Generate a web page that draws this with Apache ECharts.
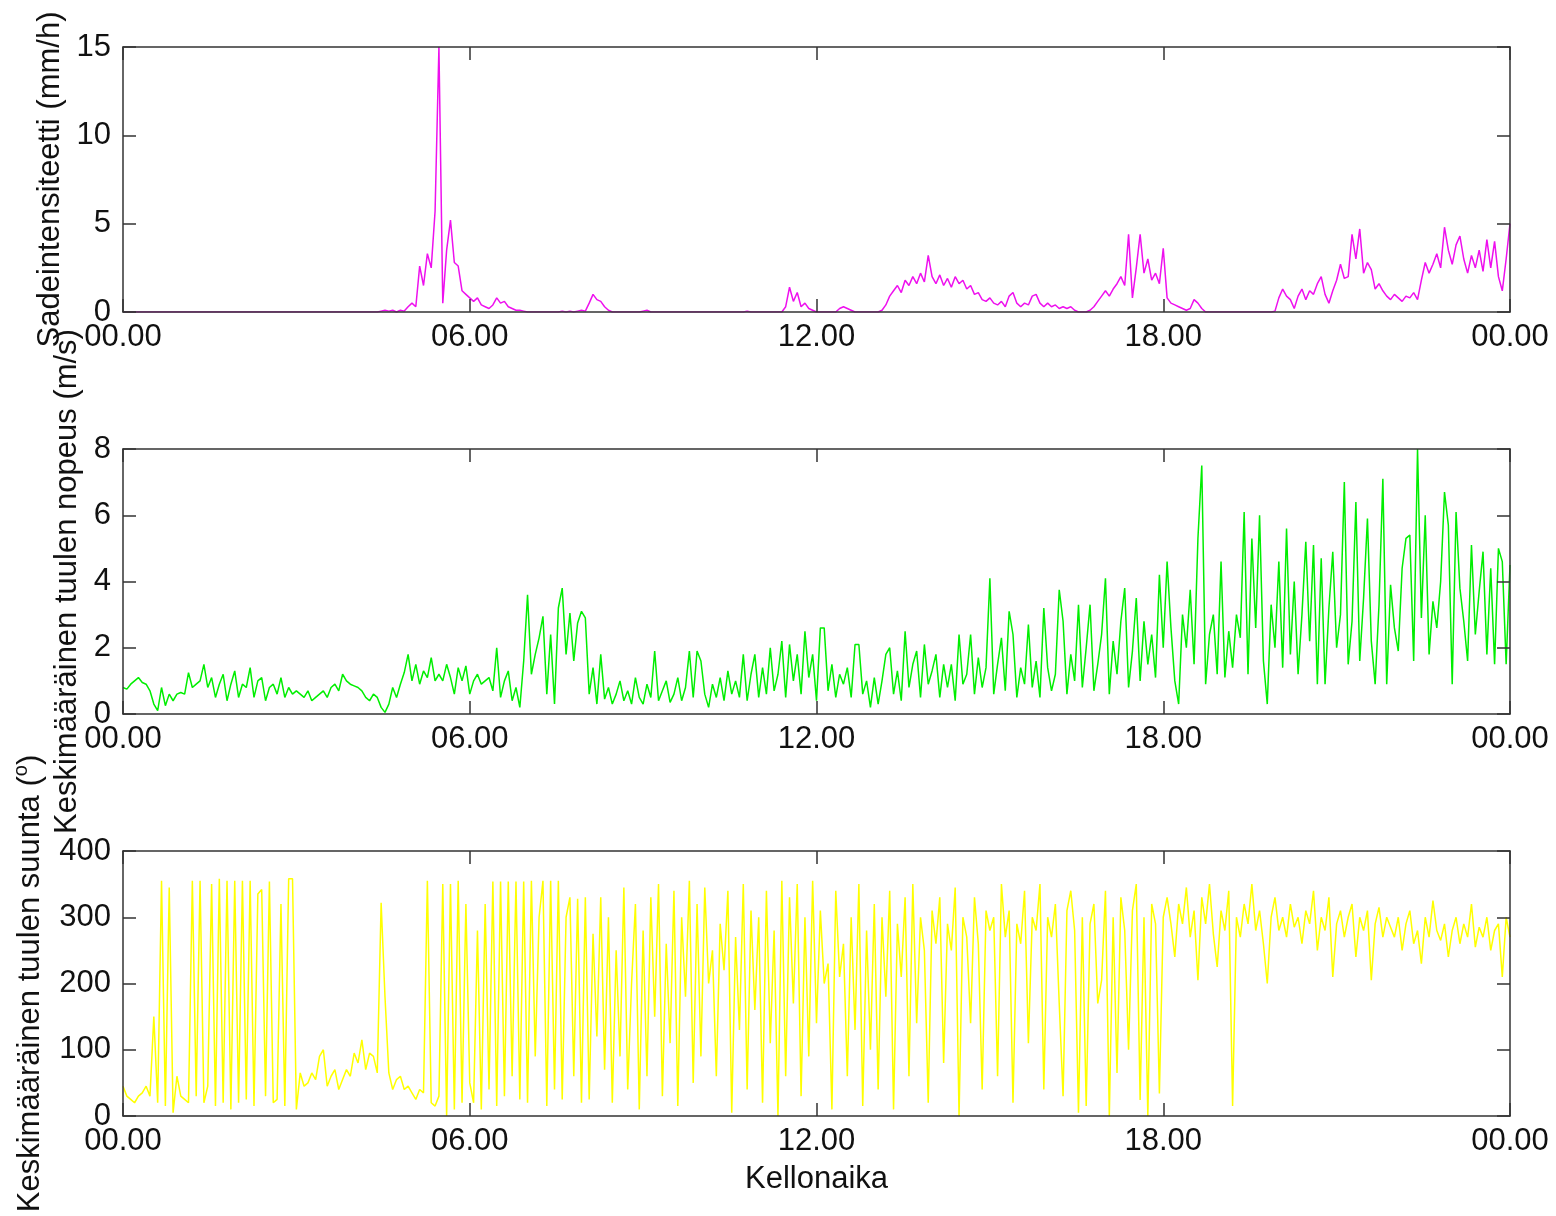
<!DOCTYPE html>
<html><head><meta charset="utf-8">
<script src="https://cdn.jsdelivr.net/npm/echarts@6/dist/echarts.min.js"></script>
<style>html,body{margin:0;padding:0;background:#fff}#c{width:1556px;height:1216px}</style>
</head><body><div id="c"></div>
<script>
// x tick labels (hours 0,6,12,18,24)
const xTickLabels = ['00.00','06.00','12.00','18.00','00.00'];
const pointsPerHour = 15; // samples every 4 minutes, 00.00 .. 24.00

// Sadeintensiteetti (mm/h)
const rain = [
0,0,0,0,0,0,0,0,0,0,0,0,0,0,0,
0,0,0,0,0,0,0,0,0,0,0,0,0,0,0,
0,0,0,0,0,0,0,0,0,0,0,0,0,0,0,
0,0,0,0,0,0,0,0,0,0,0,0,0,0,0,
0,0,0,0,0,0,0,0.05,0.1,0.05,0.1,0,0.1,0.05,0.3,
0.5,0.3,2.6,1.5,3.3,2.5,5.7,15,0.5,3.5,5.2,2.8,2.6,1.2,1.0,
0.8,0.6,0.8,0.4,0.3,0.2,0.4,0.8,0.5,0.6,0.3,0.2,0.1,0.1,0.05,
0,0,0,0,0,0,0,0,0,0.05,0,0.05,0,0.05,0.1,
0.05,0.5,1.0,0.7,0.6,0.3,0.1,0,0,0,0,0,0,0,0,
0.05,0.1,0,0,0,0,0,0,0,0,0,0,0,0,0,
0,0,0,0,0,0,0,0,0,0,0,0,0.05,0,0,
0,0,0,0,0,0,0,0.3,1.4,0.6,1.1,0.3,0.5,0.2,0.1,
0,0,0,0,0,0,0.2,0.3,0.2,0.1,0,0,0,0,0,
0,0,0.1,0.4,0.9,1.2,1.5,1.1,1.8,1.5,2.0,1.6,2.2,1.7,3.2,
2.0,1.6,2.1,1.5,1.9,1.4,2.0,1.6,1.8,1.3,1.5,1.0,1.1,0.7,0.6,
0.8,0.5,0.4,0.6,0.3,0.9,1.1,0.5,0.3,0.5,0.4,0.9,1.0,0.5,0.3,
0.5,0.3,0.4,0.2,0.3,0.2,0.3,0.1,0,0,0,0.1,0.3,0.6,0.9,
1.2,0.9,1.3,1.6,2.0,1.5,4.4,0.8,2.5,4.4,2.2,3.0,1.8,2.2,1.6,
3.6,0.8,0.5,0.4,0.3,0.2,0.1,0.2,0.7,0.5,0.2,0,0,0,0,
0,0,0,0,0,0,0,0,0,0,0,0,0,0,0.05,
0.8,1.3,0.9,0.7,0.2,0.9,1.3,0.7,1.2,1.0,1.6,2.0,1.0,0.5,1.2,
1.8,2.7,1.9,2.0,4.4,3.0,4.7,2.2,2.8,2.4,1.3,1.6,1.2,0.9,0.7,
1.0,0.8,0.6,0.9,0.8,1.1,0.7,1.8,2.8,2.2,2.7,3.3,2.5,4.8,3.5,
2.7,3.8,4.3,3.0,2.2,3.2,2.5,3.5,2.3,4.1,2.5,4.0,2.0,1.2,3.0,
5.0];

// Keskimääräinen tuulen nopeus (m/s)
const windSpeed = [
0.8,0.75,0.9,1.0,1.1,0.95,0.9,0.7,0.3,0.1,0.8,0.25,0.6,0.4,0.6,
0.65,0.6,1.25,0.8,0.9,1.0,1.5,0.8,1.1,0.5,0.9,1.2,0.4,0.9,1.3,
0.5,0.9,0.8,1.4,0.5,1.0,1.1,0.4,0.8,0.9,0.6,1.1,0.5,0.8,0.6,
0.7,0.6,0.5,0.7,0.4,0.5,0.6,0.7,0.5,0.8,0.9,0.7,1.2,1.0,0.9,
0.85,0.8,0.7,0.5,0.4,0.6,0.5,0.2,0.05,0.3,0.8,0.5,0.9,1.25,1.8,
1.0,1.5,0.9,1.3,1.1,1.7,1.0,1.2,1.0,1.5,1.1,0.6,1.4,1.0,1.45,
0.6,1.0,1.2,0.9,1.0,1.1,0.7,2.0,0.5,1.0,1.3,0.4,0.8,0.2,1.6,
3.6,1.2,1.8,2.3,2.95,0.6,2.4,0.3,3.2,3.8,1.8,3.05,1.6,2.75,3.1,
2.9,0.6,1.4,0.3,1.8,0.45,0.8,0.3,0.6,1.0,0.4,0.7,0.3,1.1,0.5,
0.3,0.9,0.5,1.9,0.4,0.7,1.0,0.35,0.6,1.1,0.4,0.8,1.9,0.5,1.9,
1.6,0.6,0.2,0.9,0.5,1.1,0.4,1.3,0.6,1.0,0.5,1.8,0.4,1.2,1.8,
0.5,1.4,0.6,2.0,0.7,1.2,2.2,0.5,2.1,1.0,1.8,0.6,2.5,1.1,1.8,
0.4,2.6,2.6,0.7,1.5,0.5,1.2,0.9,1.4,0.5,2.1,2.1,0.6,1.0,0.2,
1.1,0.3,1.0,1.8,2.0,0.6,1.3,0.4,2.5,0.8,1.5,1.9,0.5,2.1,0.9,
1.3,1.8,0.5,1.5,0.8,1.5,0.4,2.4,0.9,1.2,2.4,0.6,1.7,0.8,1.4,
4.1,0.6,1.5,2.3,0.7,3.1,2.4,0.5,1.4,0.9,2.7,0.8,1.6,0.5,3.2,
1.4,0.7,1.2,3.75,2.8,0.6,1.8,1.0,3.3,0.8,2.0,3.3,0.7,1.5,2.4,
4.1,0.6,2.2,1.2,2.8,3.8,0.8,1.9,3.5,1.0,2.8,1.5,2.4,1.1,4.2,
2.0,4.6,2.6,1.0,0.3,3.0,2.0,3.75,1.5,5.3,7.5,0.9,2.4,3.0,1.2,
4.6,1.1,2.5,1.4,3.0,2.3,6.1,1.2,5.3,2.6,6.0,1.6,0.3,3.3,2.0,
4.6,1.4,5.6,1.8,4.0,1.2,3.0,5.2,2.2,5.1,0.9,4.7,0.9,3.2,4.9,
2.0,3.0,7.0,1.5,2.8,6.4,1.6,3.5,5.9,2.2,0.9,3.3,7.1,0.9,3.9,
2.6,1.9,4.4,5.3,5.4,1.6,8.0,2.9,6.0,1.8,3.4,2.6,4.0,6.7,5.7,
0.9,6.1,3.8,2.8,1.6,5.1,2.4,3.7,4.9,1.8,4.4,1.5,5.0,4.6,1.5,
4.5];

// Keskimääräinen tuulen suunta (°)
const windDir = [
45,30,25,20,30,35,45,30,150,20,355,15,345,5,60,
30,25,20,355,30,355,20,45,350,15,358,20,355,10,355,
20,355,25,355,15,335,342,30,354,20,25,320,15,358,358,
10,65,45,50,65,55,90,100,45,60,70,40,55,70,60,
95,80,115,70,95,90,65,322,180,65,40,55,60,40,45,
35,25,40,35,355,20,15,30,350,0,350,10,355,20,320,
50,20,280,10,320,40,354,15,354,30,354,60,354,25,354,
20,355,90,300,355,15,355,40,355,25,300,330,60,328,20,
330,25,275,120,330,70,300,20,250,90,345,40,200,320,10,
280,60,330,150,350,30,260,110,340,15,300,180,355,50,320,
90,345,200,250,60,290,220,340,5,270,130,350,40,310,160,
300,20,340,110,280,0,355,60,330,170,350,30,300,90,355,
140,310,200,230,10,340,210,260,60,300,130,350,15,280,100,
320,40,300,180,340,10,290,210,330,60,350,140,300,250,20,
310,260,330,80,290,250,345,0,300,270,140,330,260,40,310,
280,300,60,350,270,310,20,290,260,340,110,300,280,350,40,
300,270,320,170,30,310,340,280,5,300,15,290,320,170,205,
340,0,300,65,330,280,100,310,350,24,300,0,320,290,34,
300,330,290,240,320,290,345,270,310,205,330,290,350,275,225,
310,280,340,15,300,270,320,290,350,280,310,260,200,300,330,
280,300,270,320,285,300,260,310,290,340,250,300,280,330,210,
290,310,270,300,320,240,300,280,310,205,290,315,270,300,285,
270,300,250,290,310,260,280,230,300,270,325,280,265,290,240,
280,300,260,290,270,320,255,285,270,300,250,280,290,210,300,
270];

const FONT = '"Liberation Sans", Arial, Helvetica, sans-serif';
const AX = '#333';
const TXT = '#111';
const panels = [
  {data: rain, color: '#ee10ee', max: 15, interval: 5, name: 'Sadeintensiteetti (mm/h)', top: 47, nameGap: 51},
  {data: windSpeed, color: '#00ee00', max: 8, interval: 2, name: 'Keskimääräinen tuulen nopeus (m/s)', top: 449, nameGap: 36},
  {data: windDir, color: '#ffff00', max: 400, interval: 100, name: 'Keskimääräinen tuulen suunta ({sup|o})', top: 851, nameGap: 74}
];

const lineCfg = {show: true, onZero: false, lineStyle: {color: AX, width: 1.5}};
const tickCfg = {show: true, inside: true, length: 13, lineStyle: {color: AX, width: 1.5}};

const option = {
  animation: false,
  backgroundColor: '#fff',
  grid: panels.map(p => ({left: 123, width: 1387, top: p.top, height: 265, outerBoundsMode: 'none', containLabel: false})),
  xAxis: panels.flatMap((p, k) => [
    {gridIndex: k, type: 'value', min: 0, max: 24, interval: 6, position: 'bottom', z: 5,
     axisLine: lineCfg, axisTick: tickCfg, splitLine: {show: false},
     axisLabel: {show: true, margin: 10, fontSize: 31, color: TXT, fontFamily: FONT, showMinLabel: true, showMaxLabel: true,
                 formatter: v => xTickLabels[Math.round(v / 6)]},
     name: k === 2 ? 'Kellonaika' : '', nameLocation: 'middle', nameGap: 48,
     nameTextStyle: {fontSize: 31, color: TXT, fontFamily: FONT}},
    {gridIndex: k, type: 'value', min: 0, max: 24, interval: 6, position: 'top', z: 5,
     axisLine: lineCfg, axisTick: tickCfg, splitLine: {show: false}, axisLabel: {show: false}}
  ]),
  yAxis: panels.flatMap((p, k) => [
    {gridIndex: k, type: 'value', min: 0, max: p.max, interval: p.interval, position: 'left', z: 5,
     axisLine: lineCfg, axisTick: tickCfg, splitLine: {show: false},
     axisLabel: {show: true, margin: 12, fontSize: 31, color: TXT, fontFamily: FONT, showMinLabel: true, showMaxLabel: true},
     name: p.name, nameLocation: 'middle', nameGap: p.nameGap,
     nameTextStyle: {fontSize: 31, color: TXT, fontFamily: FONT,
                     rich: {sup: {fontSize: 20, color: TXT, fontFamily: FONT, padding: [0, 0, 18, 0]}}}},
    {gridIndex: k, type: 'value', min: 0, max: p.max, interval: p.interval, position: 'right', z: 5,
     axisLine: lineCfg, axisTick: tickCfg, splitLine: {show: false}, axisLabel: {show: false}}
  ]),
  series: panels.map((p, k) => ({
    type: 'line', xAxisIndex: k * 2, yAxisIndex: k * 2,
    data: p.data.map((v, i) => [i / pointsPerHour, v]),
    showSymbol: false, symbol: 'none', silent: true, z: 2,
    lineStyle: {color: p.color, width: 1.5}, itemStyle: {color: p.color}
  }))
};

const chart = echarts.init(document.getElementById('c'), null, {renderer: 'canvas'});
chart.setOption(option);
</script>
</body></html>
